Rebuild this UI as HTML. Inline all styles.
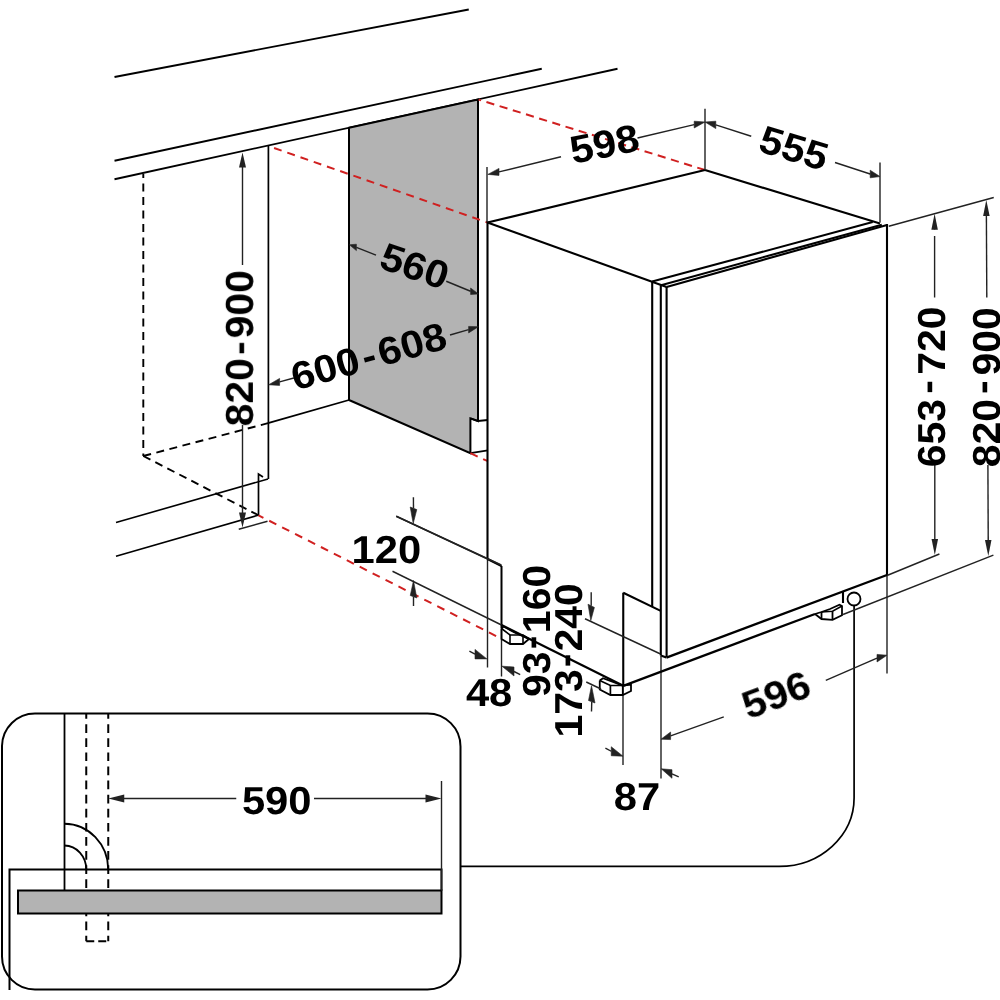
<!DOCTYPE html>
<html><head><meta charset="utf-8"><style>
html,body{margin:0;padding:0;background:#fff;width:1000px;height:1000px;overflow:hidden}
svg{display:block}
text{text-rendering:geometricPrecision;font-family:"Liberation Sans",sans-serif;font-weight:bold;font-size:39px;fill:#000}
</style></head><body>
<svg width="1000" height="1000" viewBox="0 0 1000 1000">
<line x1="114.5" y1="77" x2="468.75" y2="9.5" stroke="#000" stroke-width="1.8" stroke-linecap="butt"/>
<line x1="114.5" y1="160.75" x2="541.75" y2="68.75" stroke="#000" stroke-width="1.8" stroke-linecap="butt"/>
<line x1="114.5" y1="179.25" x2="617.5" y2="68.75" stroke="#000" stroke-width="1.8" stroke-linecap="butt"/>
<line x1="143.3" y1="174" x2="143.3" y2="456" stroke="#000" stroke-width="1.9" stroke-linecap="butt" stroke-dasharray="8 5.5" stroke-dashoffset="4"/>
<line x1="268.4" y1="146" x2="268.4" y2="479" stroke="#000" stroke-width="1.7" stroke-linecap="butt"/>
<line x1="143.3" y1="456" x2="268" y2="423.2" stroke="#000" stroke-width="1.9" stroke-linecap="butt" stroke-dasharray="8 5.5" stroke-dashoffset="0"/>
<line x1="268" y1="423.2" x2="349" y2="400" stroke="#000" stroke-width="1.8" stroke-linecap="butt"/>
<line x1="143.3" y1="456" x2="258" y2="515" stroke="#000" stroke-width="1.9" stroke-linecap="butt" stroke-dasharray="8 5.5" stroke-dashoffset="0"/>
<line x1="268" y1="479" x2="116" y2="522.5" stroke="#000" stroke-width="1.6" stroke-linecap="butt"/>
<line x1="258.75" y1="515" x2="116" y2="556.25" stroke="#000" stroke-width="1.6" stroke-linecap="butt"/>
<polyline points="258.5,515.5 258.5,474 263,477" fill="none" stroke="#000" stroke-width="1.7" stroke-linejoin="miter"/>
<line x1="242.5" y1="265" x2="242.5" y2="166.5" stroke="#222" stroke-width="1.4" stroke-linecap="butt"/>
<polygon points="242.5,152.5 246.0,167.5 239.0,167.5" fill="#222"/>
<line x1="242.5" y1="425" x2="242.5" y2="513.5" stroke="#222" stroke-width="1.4" stroke-linecap="butt"/>
<polygon points="242.5,527.5 239.0,512.5 246.0,512.5" fill="#222"/>
<line x1="238.75" y1="529.25" x2="267.5" y2="521.25" stroke="#222" stroke-width="1.4" stroke-linecap="butt"/>
<polygon points="349,127.7 478,99.4 478,421 470.4,418.4 470.4,453.2 349,400" fill="#b3b3b3" stroke="#000" stroke-width="2.0" stroke-linejoin="miter"/>
<polyline points="470.4,418.4 478,421 487.8,420" fill="none" stroke="#000" stroke-width="1.8" stroke-linejoin="miter"/>
<line x1="470.4" y1="453.2" x2="487.8" y2="450.4" stroke="#000" stroke-width="1.8" stroke-linecap="butt"/>
<line x1="478" y1="101" x2="478" y2="421" stroke="#000" stroke-width="1.8" stroke-linecap="butt"/>
<line x1="268.4" y1="146" x2="487.5" y2="222.5" stroke="#d02020" stroke-width="2.0" stroke-linecap="butt" stroke-dasharray="8 6" stroke-dashoffset="8"/>
<line x1="478.6" y1="99.6" x2="705" y2="170" stroke="#d02020" stroke-width="2.0" stroke-linecap="butt" stroke-dasharray="8.2 5.6" stroke-dashoffset="5.6"/>
<line x1="258.5" y1="515.3" x2="499" y2="637.5" stroke="#d02020" stroke-width="2.0" stroke-linecap="butt" stroke-dasharray="8 6.5" stroke-dashoffset="2.5"/>
<line x1="470.4" y1="453.2" x2="487.8" y2="461.2" stroke="#d02020" stroke-width="2.0" stroke-linecap="butt" stroke-dasharray="8 6" stroke-dashoffset="0"/>
<line x1="487.5" y1="222.5" x2="705" y2="170" stroke="#000" stroke-width="2.1" stroke-linecap="butt"/>
<line x1="705" y1="170" x2="880" y2="223.5" stroke="#000" stroke-width="2.1" stroke-linecap="butt"/>
<line x1="487.5" y1="222.5" x2="666.6" y2="287" stroke="#000" stroke-width="2.1" stroke-linecap="butt"/>
<line x1="487.5" y1="221.5" x2="487.5" y2="559" stroke="#000" stroke-width="2.1" stroke-linecap="butt"/>
<line x1="487.5" y1="559" x2="487.5" y2="667.5" stroke="#222" stroke-width="1.4" stroke-linecap="butt"/>
<line x1="487.5" y1="559" x2="501.5" y2="566" stroke="#000" stroke-width="2.1" stroke-linecap="butt"/>
<line x1="396.25" y1="516.25" x2="487.5" y2="559" stroke="#222" stroke-width="1.4" stroke-linecap="butt"/>
<line x1="501.5" y1="566" x2="501.5" y2="628" stroke="#000" stroke-width="2.0" stroke-linecap="butt"/>
<line x1="501.5" y1="628" x2="501.5" y2="676.5" stroke="#222" stroke-width="1.4" stroke-linecap="butt"/>
<line x1="392.5" y1="571.25" x2="501.5" y2="625" stroke="#222" stroke-width="1.4" stroke-linecap="butt"/>
<line x1="501.5" y1="625" x2="623.25" y2="685.8" stroke="#000" stroke-width="2.3" stroke-linecap="butt"/>
<line x1="652.2" y1="281.6" x2="652.2" y2="606.8" stroke="#000" stroke-width="2.1" stroke-linecap="butt"/>
<line x1="660.8" y1="285.2" x2="660.8" y2="655.4" stroke="#000" stroke-width="2.1" stroke-linecap="butt"/>
<line x1="660.8" y1="655.4" x2="666.4" y2="657.6" stroke="#000" stroke-width="2.1" stroke-linecap="butt"/>
<line x1="661" y1="655.4" x2="661" y2="778.5" stroke="#222" stroke-width="1.4" stroke-linecap="butt"/>
<line x1="666.6" y1="287" x2="666.6" y2="657" stroke="#000" stroke-width="2.1" stroke-linecap="butt"/>
<line x1="652.2" y1="281.6" x2="872.7" y2="222.1" stroke="#000" stroke-width="2.1" stroke-linecap="butt"/>
<line x1="661" y1="285.2" x2="881.8" y2="224.7" stroke="#000" stroke-width="2.1" stroke-linecap="butt"/>
<line x1="666.6" y1="287" x2="887" y2="225" stroke="#000" stroke-width="2.1" stroke-linecap="butt"/>
<line x1="887" y1="224" x2="887" y2="575" stroke="#000" stroke-width="2.1" stroke-linecap="butt"/>
<line x1="887" y1="575" x2="887" y2="673.5" stroke="#222" stroke-width="1.4" stroke-linecap="butt"/>
<line x1="666.4" y1="657.6" x2="887" y2="575" stroke="#000" stroke-width="2.4" stroke-linecap="butt"/>
<line x1="623.25" y1="592.7" x2="623.25" y2="686" stroke="#000" stroke-width="2.1" stroke-linecap="butt"/>
<line x1="623" y1="686" x2="623" y2="765" stroke="#222" stroke-width="1.4" stroke-linecap="butt"/>
<line x1="623.25" y1="592.7" x2="660.7" y2="610.9" stroke="#000" stroke-width="2.1" stroke-linecap="butt"/>
<line x1="623.25" y1="685.8" x2="815" y2="614" stroke="#000" stroke-width="2.3" stroke-linecap="butt"/>
<line x1="843" y1="592" x2="843" y2="603" stroke="#000" stroke-width="2.1" stroke-linecap="butt"/>
<polyline points="501.5,628.5 503.5,626.5 514.5,632.5 529,639 523,644 510,644 501.5,639 501.5,628.5" fill="none" stroke="#000" stroke-width="1.8" stroke-linejoin="miter"/>
<polyline points="501.5,628.5 510,635 523,635 529,639" fill="none" stroke="#000" stroke-width="1.6" stroke-linejoin="miter"/>
<line x1="510" y1="635" x2="510" y2="644" stroke="#000" stroke-width="1.6" stroke-linecap="butt"/>
<line x1="523" y1="635" x2="523" y2="644" stroke="#000" stroke-width="1.6" stroke-linecap="butt"/>
<polyline points="599.75,680.5 603,678.25 622.75,685.5 631,684.5 631,691 622.75,695 610.4,695 599.75,689.5 599.75,680.5" fill="none" stroke="#000" stroke-width="1.8" stroke-linejoin="miter"/>
<polyline points="599.75,680.5 610.4,685.5 622.75,685.5" fill="none" stroke="#000" stroke-width="1.7" stroke-linejoin="miter"/>
<line x1="610.4" y1="685.5" x2="610.4" y2="695" stroke="#000" stroke-width="1.7" stroke-linecap="butt"/>
<line x1="622.75" y1="685.5" x2="622.75" y2="695" stroke="#000" stroke-width="1.7" stroke-linecap="butt"/>
<polyline points="815,614 821.5,619 832.5,619.8 842,615.2 842,606 839.5,604.8 830,609 821.5,612 815,614" fill="none" stroke="#000" stroke-width="1.8" stroke-linejoin="miter"/>
<line x1="821.5" y1="612" x2="821.5" y2="619" stroke="#000" stroke-width="1.8" stroke-linecap="butt"/>
<line x1="832.5" y1="611.2" x2="832.5" y2="619.8" stroke="#000" stroke-width="1.8" stroke-linecap="butt"/>
<polyline points="821.5,612 832.5,611.2 842,606" fill="none" stroke="#000" stroke-width="1.5" stroke-linejoin="miter"/>
<circle cx="854" cy="599" r="6.5" fill="none" stroke="#000" stroke-width="1.8"/>
<path d="M854.1,605.5 L854.1,797.8 A74.9,68.6 0 0 1 779.2,866.4 L460.5,866.4" fill="none" stroke="#000" stroke-width="1.7"/>
<line x1="487" y1="167" x2="487" y2="222" stroke="#222" stroke-width="1.4" stroke-linecap="butt"/>
<line x1="561" y1="156.75" x2="499.0" y2="171.9" stroke="#222" stroke-width="1.4" stroke-linecap="butt"/>
<polygon points="487.8,174.4 499,168.4 499,175.4" fill="#222" stroke="#222" stroke-width="0.6" stroke-linejoin="round"/>
<line x1="637.5" y1="138" x2="694.2" y2="124.6" stroke="#222" stroke-width="1.4" stroke-linecap="butt"/>
<polygon points="705,122 694.2,121.2 694.2,128" fill="#222" stroke="#222" stroke-width="0.6" stroke-linejoin="round"/>
<line x1="705" y1="108.75" x2="705" y2="170" stroke="#222" stroke-width="1.4" stroke-linecap="butt"/>
<line x1="751.25" y1="136.25" x2="715.8" y2="124.9" stroke="#222" stroke-width="1.4" stroke-linecap="butt"/>
<polygon points="705,122 715.8,121.2 715.8,128.6" fill="#222" stroke="#222" stroke-width="0.6" stroke-linejoin="round"/>
<line x1="835" y1="162.5" x2="870.2" y2="174.0" stroke="#222" stroke-width="1.4" stroke-linecap="butt"/>
<polygon points="880,176.6 870.2,170.2 870.2,177.8" fill="#222" stroke="#222" stroke-width="0.6" stroke-linejoin="round"/>
<line x1="880" y1="162.5" x2="880" y2="222.5" stroke="#222" stroke-width="1.4" stroke-linecap="butt"/>
<line x1="376" y1="255.2" x2="356.4" y2="247.4" stroke="#222" stroke-width="1.4" stroke-linecap="butt"/>
<polygon points="349.4,244.8 356.4,244.2 356.4,250.6" fill="#222" stroke="#222" stroke-width="0.6" stroke-linejoin="round"/>
<line x1="446.25" y1="281.25" x2="470.6" y2="291.25" stroke="#222" stroke-width="1.4" stroke-linecap="butt"/>
<polygon points="478.4,293.9 470.6,288 470.6,294.5" fill="#222" stroke="#222" stroke-width="0.6" stroke-linejoin="round"/>
<line x1="293.8" y1="378" x2="279.6" y2="381.9" stroke="#222" stroke-width="1.4" stroke-linecap="butt"/>
<polygon points="268.6,384.8 279.6,378.4 279.6,385.4" fill="#222" stroke="#222" stroke-width="0.6" stroke-linejoin="round"/>
<line x1="450" y1="335" x2="468.6" y2="329.65" stroke="#222" stroke-width="1.4" stroke-linecap="butt"/>
<polygon points="478.4,326.7 468.6,326.4 468.6,332.9" fill="#222" stroke="#222" stroke-width="0.6" stroke-linejoin="round"/>
<line x1="888.75" y1="226.25" x2="993.75" y2="197.5" stroke="#222" stroke-width="1.4" stroke-linecap="butt"/>
<line x1="934.6" y1="229.5" x2="934.6" y2="228.75" stroke="#222" stroke-width="1.4" stroke-linecap="butt"/>
<polygon points="934.6,213.75 937.85,229.75 931.35,229.75" fill="#222"/>
<line x1="934.6" y1="236" x2="934.6" y2="297.5" stroke="#222" stroke-width="1.4" stroke-linecap="butt"/>
<line x1="986.8" y1="297.5" x2="986.38" y2="215.0" stroke="#222" stroke-width="1.4" stroke-linecap="butt"/>
<polygon points="986.3,200 989.63,215.98 983.13,216.02" fill="#222"/>
<line x1="934.8" y1="463.75" x2="934.8" y2="540.0" stroke="#222" stroke-width="1.4" stroke-linecap="butt"/>
<polygon points="934.8,555 931.55,539.0 938.05,539.0" fill="#222"/>
<line x1="987.9" y1="465" x2="988.23" y2="541.0" stroke="#222" stroke-width="1.4" stroke-linecap="butt"/>
<polygon points="988.3,556 984.98,540.01 991.48,539.99" fill="#222"/>
<line x1="887" y1="575.5" x2="939.4" y2="554" stroke="#222" stroke-width="1.4" stroke-linecap="butt"/>
<line x1="843" y1="614.5" x2="993.4" y2="555.2" stroke="#222" stroke-width="1.4" stroke-linecap="butt"/>
<line x1="413.4" y1="497.2" x2="413.5" y2="508.3" stroke="#222" stroke-width="1.4" stroke-linecap="butt"/>
<polygon points="413.2,523.6 410.2,507 416.8,509.6" fill="#222" stroke="#222" stroke-width="0.6" stroke-linejoin="round"/>
<line x1="413.5" y1="606" x2="413.5" y2="596.75" stroke="#222" stroke-width="1.4" stroke-linecap="butt"/>
<polygon points="413.5,580.5 410.25,595.5 416.75,598" fill="#222" stroke="#222" stroke-width="0.6" stroke-linejoin="round"/>
<line x1="396.25" y1="516.25" x2="501.25" y2="565" stroke="#222" stroke-width="1.4" stroke-linecap="butt"/>
<line x1="469.4" y1="651.2" x2="475.0" y2="654.15" stroke="#222" stroke-width="1.4" stroke-linecap="butt"/>
<polygon points="486.9,658.9 475,649.4 475,658.9" fill="#222" stroke="#222" stroke-width="0.6" stroke-linejoin="round"/>
<line x1="520.2" y1="674.6" x2="514.0" y2="671.5" stroke="#222" stroke-width="1.4" stroke-linecap="butt"/>
<polygon points="502,666.2 514,667 514,676" fill="#222" stroke="#222" stroke-width="0.6" stroke-linejoin="round"/>
<line x1="591.2" y1="592.2" x2="591.2" y2="605.8" stroke="#222" stroke-width="1.4" stroke-linecap="butt"/>
<polygon points="590.8,620.6 588,604.2 594.4,607.4" fill="#222" stroke="#222" stroke-width="0.6" stroke-linejoin="round"/>
<line x1="591.5" y1="711.5" x2="591.75" y2="701.75" stroke="#222" stroke-width="1.4" stroke-linecap="butt"/>
<polygon points="591.5,685.75 588.5,700.5 595,703" fill="#222" stroke="#222" stroke-width="0.6" stroke-linejoin="round"/>
<line x1="585" y1="618.75" x2="660" y2="653.75" stroke="#222" stroke-width="1.4" stroke-linecap="butt"/>
<line x1="586.25" y1="682" x2="601" y2="689" stroke="#222" stroke-width="1.4" stroke-linecap="butt"/>
<line x1="605.4" y1="748.1" x2="611.25" y2="751.25" stroke="#222" stroke-width="1.4" stroke-linecap="butt"/>
<polygon points="623,756.2 611.25,746.75 611.25,755.75" fill="#222" stroke="#222" stroke-width="0.6" stroke-linejoin="round"/>
<line x1="678.75" y1="776.9" x2="672.0" y2="773.98" stroke="#222" stroke-width="1.4" stroke-linecap="butt"/>
<polygon points="661.2,768.8 672,769.7 672,778.25" fill="#222" stroke="#222" stroke-width="0.6" stroke-linejoin="round"/>
<line x1="723.8" y1="716.8" x2="670.6" y2="735.8" stroke="#222" stroke-width="1.4" stroke-linecap="butt"/>
<polygon points="661,739.2 670.6,732 670.6,739.6" fill="#222" stroke="#222" stroke-width="0.6" stroke-linejoin="round"/>
<line x1="825.8" y1="680.4" x2="877.0" y2="658.2" stroke="#222" stroke-width="1.4" stroke-linecap="butt"/>
<polygon points="887,655.2 877,654.4 877,662" fill="#222" stroke="#222" stroke-width="0.6" stroke-linejoin="round"/>
<path d="M2,746 A33,33 0 0 1 35,713.5 L427.5,713.5 A33,33 0 0 1 460.5,746.5 L460.5,956.5 A33,33 0 0 1 427.5,989.5 L35,989.5 A33,33 0 0 1 2,956.5 Z" fill="none" stroke="#000" stroke-width="2"/>
<line x1="64.5" y1="713.5" x2="64.5" y2="891.25" stroke="#000" stroke-width="1.8" stroke-linecap="butt"/>
<line x1="86.25" y1="713.5" x2="86.25" y2="941.25" stroke="#000" stroke-width="2.0" stroke-linecap="butt" stroke-dasharray="8.7 5.4" stroke-dashoffset="3.4"/>
<line x1="108.25" y1="713.5" x2="108.25" y2="941.25" stroke="#000" stroke-width="2.0" stroke-linecap="butt" stroke-dasharray="8.7 5.4" stroke-dashoffset="3.4"/>
<line x1="86.25" y1="941.25" x2="108.25" y2="941.25" stroke="#000" stroke-width="2.0" stroke-linecap="butt" stroke-dasharray="8 4" stroke-dashoffset="0"/>
<path d="M64.5,823.75 A44,46 0 0 1 108.25,869.5" fill="none" stroke="#000" stroke-width="1.8"/>
<path d="M64.5,845.5 A22,24 0 0 1 86.25,869.5" fill="none" stroke="#000" stroke-width="1.8"/>
<polyline points="9.5,990 9.5,869.5 441.5,869.5 441.5,890.5" fill="none" stroke="#000" stroke-width="2.0" stroke-linejoin="miter"/>
<polygon points="18,890.5 441.5,890.5 441.5,913.6 18,913.6" fill="#b3b3b3" stroke="#000" stroke-width="2.0" stroke-linejoin="miter"/>
<line x1="441.5" y1="781" x2="441.5" y2="890.5" stroke="#222" stroke-width="1.4" stroke-linecap="butt"/>
<line x1="236.25" y1="798.5" x2="123.25" y2="798.5" stroke="#222" stroke-width="1.4" stroke-linecap="butt"/>
<polygon points="108.25,798.5 124.25,794.5 124.25,802.5" fill="#222"/>
<line x1="314" y1="798.5" x2="426.5" y2="798.5" stroke="#222" stroke-width="1.4" stroke-linecap="butt"/>
<polygon points="441.5,798.5 425.5,802.5 425.5,794.5" fill="#222"/>
<filter id="gs" x="0" y="0" width="1" height="1"><feColorMatrix type="saturate" values="0"/></filter><g filter="url(#gs)">
<text transform="translate(604.5 144) rotate(-11.5) scale(1.07 1)" x="-32.53 -10.84 10.84" y="13.42 13.42 13.42">598</text>
<text transform="translate(794 148) rotate(17) scale(1.07 1)" x="-32.59 -10.9 10.79" y="13.42 13.42 13.42">555</text>
<text transform="translate(414.5 266) rotate(19) scale(1.07 1)" x="-32.33 -10.65 11.04" y="13.42 13.42 13.42">560</text>
<text transform="translate(368.75 356.25) rotate(-15.7) scale(1.07 1)" x="-74.76 -53.07 -31.38 -6.61 9.46 31.15 52.84" y="13.42 13.42 13.42 12.92 13.42 13.42 13.42">600-608</text>
<text transform="translate(239.9 348.4) rotate(-90) scale(1.05 1)" x="-74.24 -52.55 -30.86 -6.31 9.53 31.22 52.91" y="13.42 13.42 13.42 12.32 13.42 13.42 13.42">820-900</text>
<text transform="translate(931.8 387) rotate(-90) scale(1.05 1)" x="-76.53 -54.84 -33.15 -6.41 11.63 33.32 55.01" y="13.42 13.42 13.42 8.32 13.42 13.42 13.42">653-720</text>
<text transform="translate(986.1 387.5) rotate(-90) scale(1.05 1)" x="-76.05 -54.36 -32.67 -6.31 11.34 33.03 54.72" y="13.42 13.42 13.42 8.52 13.42 13.42 13.42">820-900</text>
<text transform="translate(386.75 549.75) rotate(0) scale(1.07 1)" x="-32.96 -11.27 10.42" y="13.42 13.42 13.42">120</text>
<text transform="translate(488.75 692.5) rotate(0) scale(1.07 1)" x="-21.39 0.3" y="13.42 13.42">48</text>
<text transform="translate(536.1 631.1) rotate(-90) scale(1.05 1)" x="-62.88 -41.19 -17.21 -1.94 19.75 41.44" y="13.42 13.42 8.12 13.42 13.42 13.42">93-160</text>
<text transform="translate(569 659.9) rotate(-90) scale(1.05 1)" x="-73.99 -52.3 -30.61 -6.92 8.07 29.76 51.45" y="13.42 13.42 13.42 8.72 13.42 13.42 13.42">173-240</text>
<text transform="translate(776.2 695.2) rotate(-20.5) scale(1.07 1)" x="-32.43 -10.74 10.95" y="13.42 13.42 13.42">596</text>
<text transform="translate(636.75 796.5) rotate(0) scale(1.07 1)" x="-21.45 0.24" y="13.42 13.42">87</text>
<text transform="translate(276.5 800.2) rotate(0) scale(1.07 1)" x="-32.33 -10.65 11.04" y="13.42 13.42 13.42">590</text>
</g>
</svg></body></html>
